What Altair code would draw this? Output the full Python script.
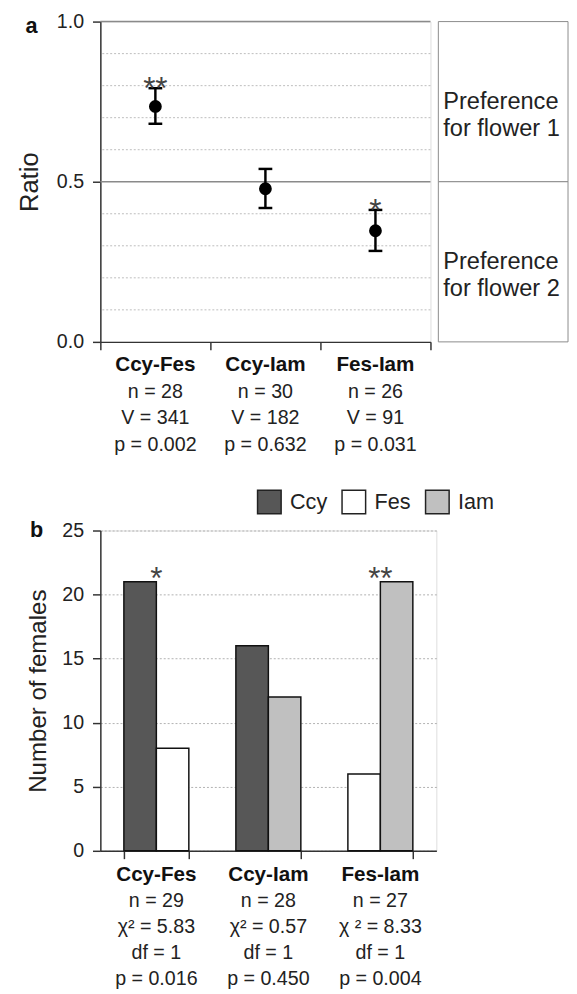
import altair as alt
import pandas as pd

FONT = "Liberation Sans"

# ---------------- panel a data ----------------
pairs = ["Ccy-Fes", "Ccy-Iam", "Fes-Iam"]
ratio_mean = [0.735, 0.478, 0.347]
ratio_low = [0.681, 0.418, 0.284]
ratio_high = [0.792, 0.540, 0.412]
ratio_stars = ["**", "", "*"]
a_n = ["n = 28", "n = 30", "n = 26"]
a_v = ["V = 341", "V = 182", "V = 91"]
a_p = ["p = 0.002", "p = 0.632", "p = 0.031"]
minor_grid = [0.1, 0.2, 0.3, 0.4, 0.6, 0.7, 0.8, 0.9]
major_grid = [0.5, 1.0]
zone_top = [1.0, 0.5]
zone_bottom = [0.5, 0.0]
zone_mid = [0.75, 0.25]
zone_text = ["Preference\nfor flower 1", "Preference\nfor flower 2"]

# ---------------- panel b data ----------------
species = ["Ccy", "Fes", "Iam"]
species_colors = ["#575757", "#ffffff", "#c0c0c0"]
bar_pair = ["Ccy-Fes", "Ccy-Fes", "Ccy-Iam", "Ccy-Iam", "Fes-Iam", "Fes-Iam"]
bar_species = ["Ccy", "Fes", "Ccy", "Iam", "Fes", "Iam"]
bar_slot = [0, 1, 0, 1, 0, 1]
bar_count = [21, 8, 16, 12, 6, 21]
count_stars = ["*", "", "**"]
count_top = [21, 16, 21]
b_n = ["n = 29", "n = 28", "n = 27"]
b_chi = ["χ² = 5.83", "χ² = 0.57", "χ ² = 8.33"]
b_df = ["df = 1", "df = 1", "df = 1"]
b_p = ["p = 0.016", "p = 0.450", "p = 0.004"]

WA, HA = 336, 326
WB, HB = 342, 326
AX = "#333333"

# ================= panel a =================
dfa = pd.DataFrame({"pair": pairs, "v": ratio_mean, "lo": ratio_low,
                    "hi": ratio_high, "star": ratio_stars,
                    "n": a_n, "V": a_v, "p": a_p})
xa = alt.X("pair:N", sort=pairs,
           scale=alt.Scale(type="band", domain=pairs, paddingInner=0, paddingOuter=0),
           axis=alt.Axis(title=None, labels=False, tickBand="extent", tickSize=8,
                         domainColor=AX, tickColor=AX, domainWidth=1.5, tickWidth=1.5,
                         grid=False))
yscale_a = alt.Scale(domain=[0, 1], nice=False, zero=True)
yaxis_a = alt.Axis(values=[0, 0.5, 1], format=".1f", title="Ratio", grid=False,
                   tickSize=8, labelPadding=9, labelFontSize=20, labelColor="#222",
                   titleFontSize=26, titleFontWeight="normal", titleColor="#222",
                   titlePadding=14, domainColor=AX, tickColor=AX, domainWidth=1.5,
                   tickWidth=1.5, labelFont=FONT, titleFont=FONT)


def ya(field):
    return alt.Y(field, scale=yscale_a, axis=yaxis_a, title="Ratio")


minor = alt.Chart(pd.DataFrame({"v": minor_grid})).mark_rule(
    color="#bdbdbd", strokeDash=[2, 2], strokeWidth=1).encode(y=ya("v:Q"))
major = alt.Chart(pd.DataFrame({"v": major_grid})).mark_rule(
    color="#8a8a8a", strokeWidth=1.5).encode(y=ya("v:Q"))

zones = pd.DataFrame({"v": zone_top, "v2": zone_bottom, "mid": zone_mid, "t": zone_text})
box = alt.Chart(zones).mark_rect(fill="white", stroke="#8a8a8a", strokeWidth=1).encode(
    x=alt.value(344), x2=alt.value(476), y=ya("v:Q"), y2="v2:Q")
box_text = alt.Chart(zones).mark_text(
    align="left", baseline="middle", fontSize=24, font=FONT, color="#222",
    lineBreak="\n", lineHeight=28).encode(
    x=alt.value(349), y=ya("mid:Q"), text="t:N")

err = alt.Chart(dfa).mark_rule(color="black", strokeWidth=2.5).encode(
    x=xa, y=ya("lo:Q"), y2="hi:Q")
cap_lo = alt.Chart(dfa).mark_tick(color="black", thickness=2.5, size=14, opacity=1).encode(
    x=xa, y=ya("lo:Q"))
cap_hi = alt.Chart(dfa).mark_tick(color="black", thickness=2.5, size=14, opacity=1).encode(
    x=xa, y=ya("hi:Q"))
pts = alt.Chart(dfa).mark_circle(color="black", size=170, opacity=1).encode(
    x=xa, y=ya("v:Q"))
stars_a = alt.Chart(dfa).mark_text(fontSize=32, font=FONT, color="#444",
                                   baseline="alphabetic", dy=11).encode(
    x=xa, y=ya("hi:Q"), text="star:N")

layers_a = [minor, major, box, box_text, err, cap_lo, cap_hi, pts, stars_a]
layers_a.append(alt.Chart(dfa).mark_text(fontSize=21, fontWeight="bold", font=FONT,
                                         color="#111", baseline="middle").encode(
    x=xa, y=alt.value(HA + 24), text="pair:N"))
for i, col in enumerate(["n", "V", "p"]):
    layers_a.append(alt.Chart(dfa).mark_text(fontSize=20, font=FONT, color="#222",
                                             baseline="middle").encode(
        x=xa, y=alt.value(HA + 24 + 27 * (i + 1)), text=f"{col}:N"))
layers_a.append(alt.Chart(dfa.head(1)).mark_text(
    text="a", fontSize=22, fontWeight="bold", font=FONT, color="#111",
    baseline="alphabetic").encode(x=alt.value(-70), y=alt.value(12)))

panel_a = alt.layer(*layers_a).properties(width=WA, height=HA)

# ================= panel b =================
dfb = pd.DataFrame({"pair": bar_pair, "species": bar_species, "slot": bar_slot,
                    "count": bar_count})
dfs = pd.DataFrame({"pair": pairs, "star": count_stars, "top": count_top,
                    "n": b_n, "chi": b_chi, "df": b_df, "p": b_p})
xb = alt.X("pair:N", sort=pairs,
           scale=alt.Scale(type="band", domain=pairs, paddingInner=0.42, paddingOuter=0.21),
           axis=alt.Axis(title=None, labels=False, tickBand="extent", tickSize=8,
                         domainColor=AX, tickColor=AX, domainWidth=1.5, tickWidth=1.5,
                         grid=False))
yscale_b = alt.Scale(domain=[0, 25], nice=False)
yaxis_b = alt.Axis(values=[0, 5, 10, 15, 20, 25], title="Number of females", grid=True,
                   gridColor="#b0b0b0", gridDash=[2, 2], gridWidth=1,
                   tickSize=8, labelPadding=9, labelFontSize=20, labelColor="#222",
                   titleFontSize=24.5, titleFontWeight="normal", titleColor="#222",
                   titlePadding=12, domainColor=AX, tickColor=AX, domainWidth=1.5,
                   tickWidth=1.5, labelFont=FONT, titleFont=FONT)


def yb(field):
    return alt.Y(field, scale=yscale_b, axis=yaxis_b, title="Number of females")


# legend position is measured from panel a's plot origin (legend is lifted to the top level)
bars = alt.Chart(dfb).mark_bar(stroke="#111", strokeWidth=1.5).encode(
    x=xb,
    xOffset=alt.XOffset("slot:N", scale=alt.Scale(paddingInner=0, paddingOuter=0)),
    y=yb("count:Q"),
    color=alt.Color("species:N", scale=alt.Scale(domain=species, range=species_colors),
                    legend=alt.Legend(orient="none", legendX=159, legendY=476,
                                      direction="horizontal", title=None,
                                      symbolType="square", symbolSize=576,
                                      symbolStrokeColor="#222", symbolStrokeWidth=1.5,
                                      symbolOpacity=1,
                                      labelFontSize=22, labelFont=FONT, labelColor="#222",
                                      labelOffset=8, columnPadding=12)))
stars_b = alt.Chart(dfs).mark_text(fontSize=32, font=FONT, color="#444",
                                   baseline="alphabetic", dy=7).encode(
    x=xb, y=yb("top:Q"), text="star:N")
layers_b = [bars, stars_b]
layers_b.append(alt.Chart(dfs).mark_text(fontSize=21, fontWeight="bold", font=FONT,
                                         color="#111", baseline="middle").encode(
    x=xb, y=alt.value(HB + 25), text="pair:N"))
for i, col in enumerate(["n", "chi", "df", "p"]):
    layers_b.append(alt.Chart(dfs).mark_text(fontSize=20, font=FONT, color="#222",
                                             baseline="middle").encode(
        x=xb, y=alt.value(HB + 25 + 26.5 * (i + 1)), text=f"{col}:N"))
layers_b.append(alt.Chart(dfs.head(1)).mark_text(
    text="b", fontSize=22, fontWeight="bold", font=FONT, color="#111",
    baseline="alphabetic").encode(x=alt.value(-65), y=alt.value(7)))

panel_b = alt.layer(*layers_b).properties(width=WB, height=HB)

chart = alt.vconcat(panel_a, panel_b, spacing=64).properties(
    padding={"left": 8, "top": -6, "right": 0, "bottom": 0}
).configure_view(stroke=None).configure(font=FONT)

chart.save("out.html", embed_options={"renderer": "svg", "actions": False})
